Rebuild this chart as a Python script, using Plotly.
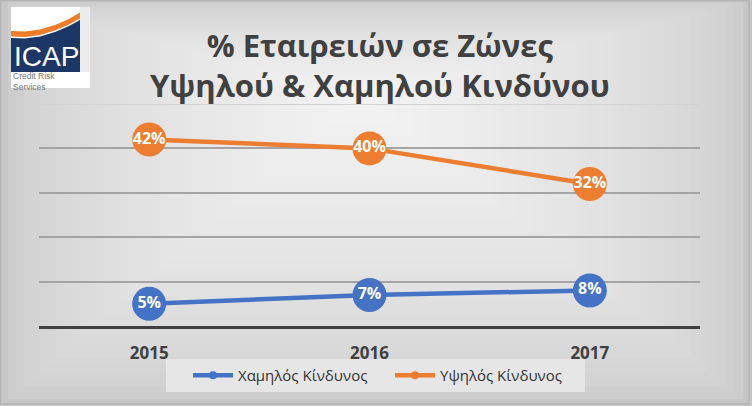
import plotly.graph_objects as go

# ---- data ----
years = ["2015", "2016", "2017"]
low_risk = [5, 7, 8]       # Χαμηλός Κίνδυνος (%)
high_risk = [42, 40, 32]   # Υψηλός Κίνδυνος (%)
low_name = "Χαμηλός Κίνδυνος"
high_name = "Υψηλός Κίνδυνος"
title_lines = ["% Εταιρειών σε Ζώνες", "Υψηλού & Χαμηλού Κινδύνου"]

BLUE = "#4472C4"
ORANGE = "#ED7D31"
FONT = "Open Sans"

W, H = 752, 406
L, R, T, B = 39, 700, 104, 326


def px(x):
    return (x - L) / (R - L)


def py(y):
    return (B - y) / (B - T)


fig = go.Figure()

for name, vals, col in [(low_name, low_risk, BLUE), (high_name, high_risk, ORANGE)]:
    fig.add_trace(go.Scatter(
        x=years, y=vals, name=name, mode="lines+markers",
        line=dict(color=col, width=4.5),
        marker=dict(size=8, color=col),
        hoverinfo="skip",
    ))
for name, vals, col in [(low_name, low_risk, BLUE), (high_name, high_risk, ORANGE)]:
    fig.add_trace(go.Scatter(
        x=years, y=vals, mode="markers+text", showlegend=False,
        marker=dict(size=34, color=col),
        text=[f"{v}%" for v in vals], textposition="middle center",
        textfont=dict(family=FONT, size=16, color="white", weight="bold"),
        hoverinfo="skip",
    ))

shapes = []
# background gradient approximation (nested rectangles)
N = 45
cx, cy = 360, 95
for i in range(N):
    t = i / N
    lvl = int(round(198 + (243 - 198) * (t ** 0.5)))
    colr = f"rgb({lvl},{lvl},{lvl})"
    x0 = cx * t
    x1 = W - (W - cx) * t
    y0 = cy * t
    y1 = H - (H - cy) * t
    shapes.append(dict(type="rect", xref="paper", yref="paper",
                       x0=px(x0), x1=px(x1), y0=py(y1), y1=py(y0),
                       fillcolor=colr, line=dict(width=0), layer="below"))
# outer frame
shapes.append(dict(type="rect", xref="paper", yref="paper",
                   x0=px(0.5), x1=px(W - 3), y0=py(H - 2), y1=py(0.5),
                   fillcolor="rgba(0,0,0,0)", line=dict(color="#b4b4b4", width=1.5),
                   layer="below"))
# legend box
shapes.append(dict(type="rect", xref="paper", yref="paper",
                   x0=px(166), x1=px(585), y0=py(392), y1=py(359),
                   fillcolor="#e6e6e6", line=dict(width=0), layer="below"))
# top grid line (lighter)
shapes.append(dict(type="line", xref="paper", yref="y", x0=0, x1=1, y0=50, y1=50,
                   line=dict(color="#d2d2d2", width=2), layer="below"))

# ---- logo ----
shapes.append(dict(type="rect", xref="paper", yref="paper",
                   x0=px(11), x1=px(90), y0=py(88), y1=py(7),
                   fillcolor="#ffffff", line=dict(width=0), layer="below"))
shapes.append(dict(type="rect", xref="paper", yref="paper",
                   x0=px(80), x1=px(90), y0=py(72), y1=py(7),
                   fillcolor="#ececec", line=dict(width=0), layer="below"))


def path(points, close=True):
    s = "M " + " L ".join(f"{px(a):.5f},{py(b):.5f}" for a, b in points)
    return s + (" Z" if close else "")


navy_top = [(11, 38), (25, 38.5), (40, 36.5), (55, 32), (68, 26.5), (80, 20)]
shapes.append(dict(type="path", xref="paper", yref="paper",
                   path=path(navy_top + [(80, 72), (11, 72)]),
                   fillcolor="#1c3766", line=dict(width=0), layer="below"))
sw_low = [(11, 36.5), (25, 37), (40, 35), (55, 30.5), (68, 25), (80, 18.5)]
sw_high = [(80, 12.5), (68, 19.5), (55, 25), (40, 29.5), (25, 31.5), (11, 31)]
shapes.append(dict(type="path", xref="paper", yref="paper",
                   path=path(sw_low + sw_high),
                   fillcolor="#ee7d2a", line=dict(width=0), layer="below"))

annotations = [
    dict(text="ICAP", x=px(46), y=py(57), xref="paper", yref="paper",
         showarrow=False, font=dict(family="Liberation Sans", size=28, color="white"),
         xanchor="center", yanchor="middle"),
    dict(text="Credit Risk<br>Services", x=px(11), y=py(81.5), xref="paper", yref="paper",
         showarrow=False, align="left",
         font=dict(family="Liberation Sans", size=8.5, color="#7a7a7a"),
         xanchor="left", yanchor="middle"),
    dict(text="<br>".join(title_lines), x=px(380), y=py(65), xref="paper", yref="paper",
         showarrow=False, align="center",
         font=dict(family=FONT, size=31, color="#404040", weight="bold"),
         xanchor="center", yanchor="middle"),
]

fig.update_layout(
    width=W, height=H,
    margin=dict(l=L, r=W - R, t=T, b=H - B, pad=0),
    paper_bgcolor="rgb(198,198,198)",
    plot_bgcolor="rgba(0,0,0,0)",
    shapes=shapes,
    annotations=annotations,
    showlegend=True,
    legend=dict(orientation="h", xanchor="left", x=px(188), yanchor="middle", y=py(375.5),
                bgcolor="rgba(0,0,0,0)", font=dict(family=FONT, size=15, color="#333333"),
                entrywidth=147, itemwidth=40, tracegroupgap=0),
    xaxis=dict(type="category", range=[-0.5, 2.5], showgrid=False, zeroline=False,
               showline=True, linecolor="#404040", linewidth=3,
               ticks="outside", ticklen=10, tickcolor="rgba(0,0,0,0)",
               tickfont=dict(family=FONT, size=17, color="#404040", weight="bold"),
               fixedrange=True),
    yaxis=dict(range=[0, 50], tickvals=[10, 20, 30, 40], showticklabels=False,
               showgrid=True, gridcolor="#a4a4a4", gridwidth=2, zeroline=False,
               showline=False, fixedrange=True),
)

fig.write_html("out.html", config=dict(displayModeBar=False),
               post_script="document.body.style.margin='0';")
